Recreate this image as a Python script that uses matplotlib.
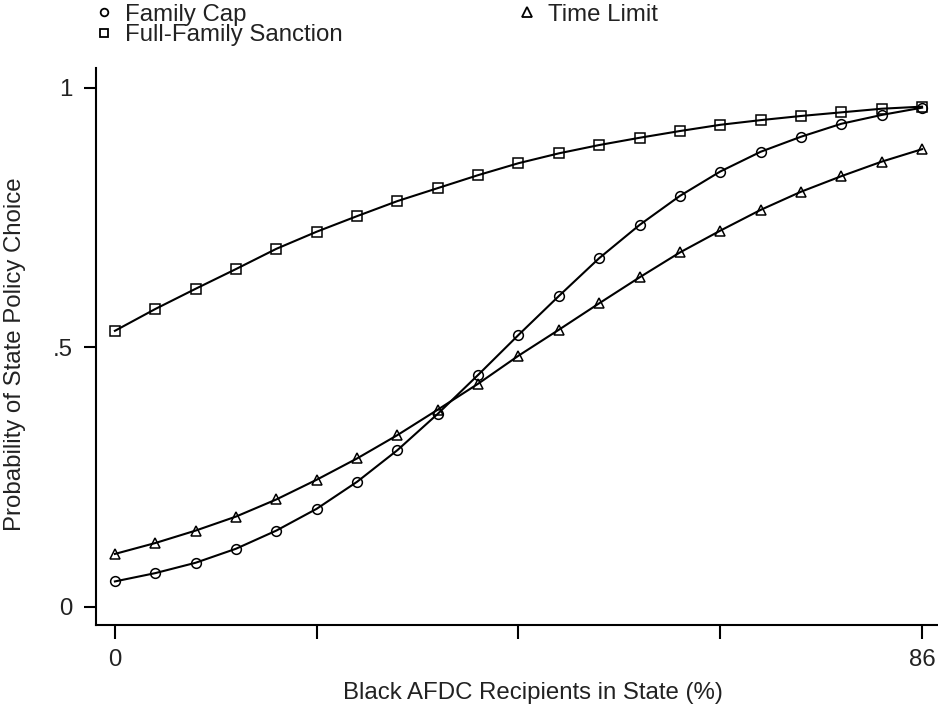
"""Predicted probability of state welfare policy choices by share of Black AFDC recipients."""

import matplotlib

matplotlib.use("Agg")
import matplotlib.pyplot as plt

plt.rcParams["font.family"] = ["Liberation Sans", "DejaVu Sans"]

# share of Black AFDC recipients in the state (%), 21 evaluation points
black_share = [0.0, 4.3, 8.6, 12.9, 17.2, 21.5, 25.8, 30.1, 34.4, 38.7, 43.0,
               47.3, 51.6, 55.9, 60.2, 64.5, 68.8, 73.1, 77.4, 81.7, 86.0]

family_cap = [0.049, 0.065, 0.085, 0.112, 0.147, 0.189, 0.241, 0.302, 0.372, 0.447, 0.524,
              0.599, 0.672, 0.736, 0.792, 0.839, 0.877, 0.906, 0.931, 0.948, 0.962]
full_family_sanction = [0.532, 0.574, 0.613, 0.651, 0.690, 0.723, 0.753, 0.782, 0.807, 0.832, 0.855,
                        0.874, 0.890, 0.904, 0.917, 0.929, 0.938, 0.946, 0.953, 0.960, 0.964]
time_limit = [0.102, 0.123, 0.147, 0.174, 0.207, 0.245, 0.286, 0.331, 0.380, 0.430, 0.484,
              0.534, 0.585, 0.635, 0.683, 0.725, 0.765, 0.800, 0.830, 0.858, 0.882]

x_ticks = [0, 21.5, 43, 64.5, 86]
x_tick_labels = ["0", "", "", "", "86"]
y_ticks = [0, 0.5, 1]
y_tick_labels = ["0", ".5", "1"]

TEXT_COLOR = "#222222"
FONT_SIZE = 17.3
LINE_KW = dict(color="black", linewidth=1.5, markersize=7, markerfacecolor="none",
               markeredgecolor="black", markeredgewidth=1.1)

fig = plt.figure(figsize=(9.38, 7.06), dpi=100)
ax = fig.add_axes([0.1023, 0.1147, 0.8967, 0.789])

h_cap, = ax.plot(black_share, family_cap, marker="o", label="Family Cap", **LINE_KW)
h_ffs, = ax.plot(black_share, full_family_sanction, marker="s", label="Full-Family Sanction", **LINE_KW)
h_tl, = ax.plot(black_share, time_limit, marker="^", label="Time Limit", **LINE_KW)

ax.set_xlim(-2.02, 87.6)
ax.set_ylim(-0.035, 1.0385)
ax.set_xticks(x_ticks)
ax.set_xticklabels(x_tick_labels)
ax.set_yticks(y_ticks)
ax.set_yticklabels(y_tick_labels)

for side in ("top", "right"):
    ax.spines[side].set_visible(False)
for side in ("left", "bottom"):
    ax.spines[side].set_linewidth(1.5)

ax.tick_params(axis="x", length=10, width=1.5, pad=7, labelsize=FONT_SIZE, labelcolor=TEXT_COLOR)
ax.tick_params(axis="y", length=9, width=1.5, pad=8, labelsize=FONT_SIZE, labelcolor=TEXT_COLOR)

ax.set_xlabel("Black AFDC Recipients in State (%)", fontsize=FONT_SIZE, color=TEXT_COLOR)
ax.set_ylabel("Probability of State Policy Choice", fontsize=FONT_SIZE, color=TEXT_COLOR)
ax.xaxis.set_label_coords(0.52, -0.103)
ax.yaxis.set_label_coords(-0.083, 0.4865)

handles = []
for h, size in ((h_cap, 5.5), (h_ffs, 5.5), (h_tl, 6.5)):
    proxy, = ax.plot([], [], marker=h.get_marker(), linestyle="none", markersize=size,
                     markerfacecolor="none", markeredgecolor="black", markeredgewidth=1.3)
    proxy.set_label(h.get_label())
    handles.append(proxy)

fig.legend(handles=handles, loc="upper left", bbox_to_anchor=(0.1034, 0.995), ncol=2,
           frameon=False, fontsize=FONT_SIZE, handlelength=0.6, handletextpad=0.58,
           labelspacing=-0.05, columnspacing=7.35, borderpad=0, borderaxespad=0,
           labelcolor=TEXT_COLOR)

fig.savefig("out.png", dpi=100)
